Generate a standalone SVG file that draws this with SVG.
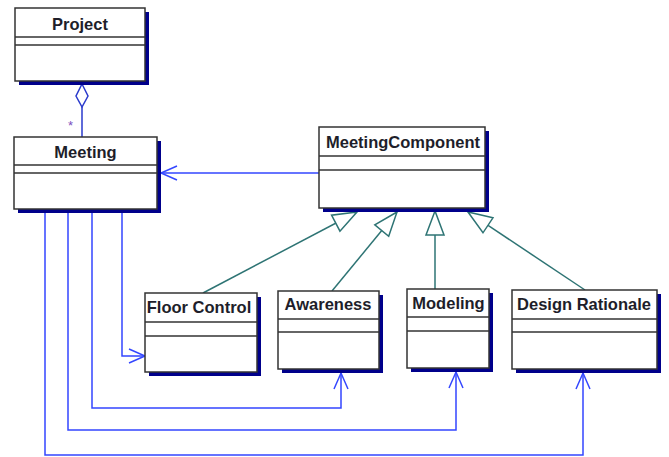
<svg xmlns="http://www.w3.org/2000/svg" width="669" height="457" viewBox="0 0 669 457">
  <style>
    .shadow { fill: #00008b; }
    .box { fill: #ffffff; stroke: #333333; stroke-width: 1.5; }
    .div { stroke: #333333; stroke-width: 1.5; }
    .name { font-family: "Liberation Sans", Arial, sans-serif; font-size: 16.5px; font-weight: bold; fill: #1e1e2a; text-anchor: middle; }
    .nav { fill: none; stroke: #3346ff; stroke-width: 1.5; }
    .gen { fill: none; stroke: #2e7474; stroke-width: 1.5; }
    .agg { fill: none; stroke: #2a3acc; stroke-width: 1.5; }
    .mult { font-family: "Liberation Sans", Arial, sans-serif; font-size: 13px; fill: #7a4fc0; }
  </style>
  <defs>
    <marker id="open" markerUnits="userSpaceOnUse" markerWidth="20" markerHeight="20" viewBox="-18 -10 20 20" refX="0" refY="0" orient="auto">
      <path d="M-16,-7 L0,0 L-16,7" fill="none" stroke="#3346ff" stroke-width="1.5"/>
    </marker>
    <marker id="gen" markerUnits="userSpaceOnUse" markerWidth="30" markerHeight="24" viewBox="-27 -12 30 24" refX="0" refY="0" orient="auto">
      <path d="M0,0 L-24,-9 L-24,9 Z" fill="#ffffff" stroke="#2e7474" stroke-width="1.5"/>
    </marker>
  </defs>

  <!-- connectors -->
  <g id="connectors">
    <!-- aggregation Project <>- Meeting -->
    <path class="agg" d="M82,107 V137"/>
    <path class="agg" d="M82,84 L88,96 L82,107 L76,96 Z" fill="#ffffff"/>
    <text class="mult" x="68" y="130">*</text>

    <!-- MeetingComponent -> Meeting -->
    <path class="nav" d="M319,173 H161" marker-end="url(#open)"/>

    <!-- Meeting -> components -->
    <path class="nav" d="M122,213 V356 H145" marker-end="url(#open)"/>
    <path class="nav" d="M92,213 V408 H341 V373" marker-end="url(#open)"/>
    <path class="nav" d="M68,213 V430 H456 V372" marker-end="url(#open)"/>
    <path class="nav" d="M45,213 V455 H583 V373" marker-end="url(#open)"/>

    <!-- generalizations -->
    <path class="gen" d="M203,293 L357,212" marker-end="url(#gen)"/>
    <path class="gen" d="M332,291 L397,212" marker-end="url(#gen)"/>
    <path class="gen" d="M435,289 L435,211" marker-end="url(#gen)"/>
    <path class="gen" d="M585,290 L468,212" marker-end="url(#gen)"/>
  </g>

  <g id="project">
    <rect class="shadow" x="19" y="12" width="130" height="73"/>
    <rect class="box" x="15" y="8" width="130" height="73"/>
    <line class="div" x1="15" y1="37" x2="145" y2="37"/>
    <line class="div" x1="15" y1="45" x2="145" y2="45"/>
    <text class="name" x="80" y="30">Project</text>
  </g>

  <g id="meeting">
    <rect class="shadow" x="18" y="141" width="143" height="72"/>
    <rect class="box" x="14" y="137" width="143" height="72"/>
    <line class="div" x1="14" y1="165" x2="157" y2="165"/>
    <line class="div" x1="14" y1="173" x2="157" y2="173"/>
    <text class="name" x="85.5" y="158">Meeting</text>
  </g>

  <g id="meeting-component">
    <rect class="shadow" x="323" y="131" width="166" height="81"/>
    <rect class="box" x="319" y="127" width="166" height="81"/>
    <line class="div" x1="319" y1="156" x2="485" y2="156"/>
    <line class="div" x1="319" y1="170" x2="485" y2="170"/>
    <text class="name" x="403" y="148">MeetingComponent</text>
  </g>

  <g id="floor-control">
    <rect class="shadow" x="149" y="297" width="112" height="79"/>
    <rect class="box" x="145" y="293" width="112" height="79"/>
    <line class="div" x1="145" y1="322" x2="257" y2="322"/>
    <line class="div" x1="145" y1="336" x2="257" y2="336"/>
    <text class="name" x="199" y="313">Floor Control</text>
  </g>

  <g id="awareness">
    <rect class="shadow" x="282" y="295" width="101" height="78"/>
    <rect class="box" x="278" y="291" width="101" height="78"/>
    <line class="div" x1="278" y1="319" x2="379" y2="319"/>
    <line class="div" x1="278" y1="332" x2="379" y2="332"/>
    <text class="name" x="328" y="310">Awareness</text>
  </g>

  <g id="modeling">
    <rect class="shadow" x="411" y="293" width="82" height="79"/>
    <rect class="box" x="407" y="289" width="82" height="79"/>
    <line class="div" x1="407" y1="317" x2="489" y2="317"/>
    <line class="div" x1="407" y1="331" x2="489" y2="331"/>
    <text class="name" x="448.5" y="309">Modeling</text>
  </g>

  <g id="design-rationale">
    <rect class="shadow" x="516" y="294" width="145" height="79"/>
    <rect class="box" x="512" y="290" width="145" height="79"/>
    <line class="div" x1="512" y1="319" x2="657" y2="319"/>
    <line class="div" x1="512" y1="332" x2="657" y2="332"/>
    <text class="name" x="584" y="310">Design Rationale</text>
  </g>
</svg>
